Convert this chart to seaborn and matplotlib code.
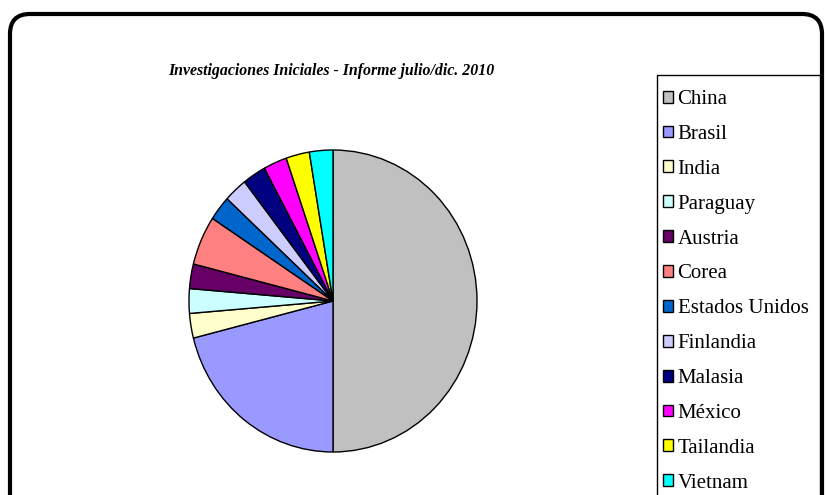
import matplotlib
matplotlib.use("Agg")
import matplotlib.pyplot as plt
import seaborn as sns
from matplotlib.patches import FancyBboxPatch, Patch, Rectangle

sns.set_theme(style="white")
plt.rcParams['font.family'] = ['Liberation Serif', 'DejaVu Serif']
plt.rcParams['text.color'] = 'black'

paises = ["China", "Brasil", "India", "Paraguay", "Austria", "Corea",
          "Estados Unidos", "Finlandia", "Malasia", "México", "Tailandia", "Vietnam"]
casos = [19, 8, 1, 1, 1, 2, 1, 1, 1, 1, 1, 1]
colores = ["#C0C0C0", "#9999FF", "#FFFFCC", "#CCFFFF", "#660066", "#FF8080",
           "#0066CC", "#CCCCFF", "#000080", "#FF00FF", "#FFFF00", "#00FFFF"]
titulo = "Investigaciones Iniciales - Informe julio/dic. 2010"

W, H = 826, 495
fig = plt.figure(figsize=(W / 100, H / 100), dpi=100)
fig.patch.set_facecolor("white")

# background axes in pixel coords for the rounded frame and legend box
bg = fig.add_axes([0, 0, 1, 1])
bg.set_xlim(0, W)
bg.set_ylim(H, 0)
bg.axis("off")
frame = FancyBboxPatch((10, 14), 812, 540, boxstyle="round,pad=0,rounding_size=20",
                       facecolor="white", edgecolor="black", linewidth=3)
bg.add_patch(frame)
bg.add_patch(Rectangle((657, 75), 163, 460, facecolor="white",
                       edgecolor="black", linewidth=1.0))

# pie axes
cx, cy, rx, ry = 333, 301, 144, 151
ax = fig.add_axes([(cx - rx) / W, (H - cy - ry) / H, 2 * rx / W, 2 * ry / H])
ax.pie(casos, colors=colores, startangle=90, counterclock=False,
       wedgeprops=dict(edgecolor="black", linewidth=1.0))
ax.set_aspect("auto")
ax.set_xlim(-1.0, 1.0)
ax.set_ylim(-1.0, 1.0)
ax.axis("off")

fig.text(331 / W, 1 - 71 / H, titulo, ha="center", va="center",
         fontsize=11.4, fontweight="bold", fontstyle="italic", color="black")

handles = [Patch(facecolor=c, edgecolor="black", linewidth=1.0) for c in colores]
leg = fig.legend(handles, paises, loc="upper left",
                 bbox_to_anchor=(663 / W, 1 - 90 / H),
                 frameon=False, fontsize=15,
                 handlelength=0.5, handleheight=0.5, handletextpad=0.2,
                 labelspacing=0.762, borderpad=0, borderaxespad=0)
for t in leg.get_texts():
    t.set_color("black")

fig.savefig("out.png", dpi=100)
